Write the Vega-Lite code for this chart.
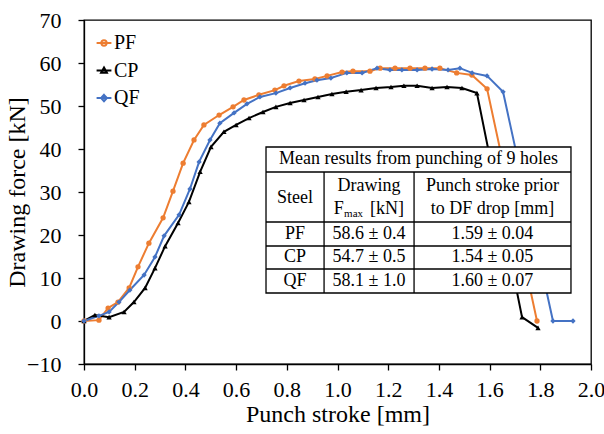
{
  "$schema": "https://vega.github.io/schema/vega-lite/v6.json",
  "width": 507,
  "height": 344,
  "autosize": {"type": "none"},
  "padding": {"left": 84, "top": 20, "right": 13, "bottom": 70},
  "background": "white",
  "config": {
    "font": "Liberation Serif",
    "view": {"stroke": "black", "strokeWidth": 1.3},
    "axis": {"grid": false, "domainColor": "black", "domainWidth": 1.3, "tickColor": "black", "tickWidth": 1.3, "tickSize": 6, "labelColor": "black", "titleColor": "black", "labelFont": "Liberation Serif", "titleFont": "Liberation Serif", "labelFontSize": 22, "titleFontSize": 24, "titleFontWeight": "normal"},
    "legend": {"labelFont": "Liberation Serif", "labelFontSize": 20, "labelColor": "black"}
  },
  "datasets": {
    "curves": [
      {"steel":"PF","s":0,"f":0},{"steel":"PF","s":0.059,"f":0.2},{"steel":"PF","s":0.095,"f":3.0},{"steel":"PF","s":0.134,"f":4.4},{"steel":"PF","s":0.178,"f":7.7},{"steel":"PF","s":0.213,"f":12.6},{"steel":"PF","s":0.256,"f":18.1},{"steel":"PF","s":0.312,"f":24.0},{"steel":"PF","s":0.351,"f":30.2},{"steel":"PF","s":0.391,"f":36.7},{"steel":"PF","s":0.434,"f":42.1},{"steel":"PF","s":0.473,"f":45.6},{"steel":"PF","s":0.533,"f":47.9},{"steel":"PF","s":0.588,"f":49.8},{"steel":"PF","s":0.631,"f":51.4},{"steel":"PF","s":0.690,"f":52.6},{"steel":"PF","s":0.753,"f":53.7},{"steel":"PF","s":0.789,"f":54.7},{"steel":"PF","s":0.848,"f":55.8},{"steel":"PF","s":0.911,"f":56.3},{"steel":"PF","s":0.959,"f":57.0},{"steel":"PF","s":1.018,"f":57.9},{"steel":"PF","s":1.061,"f":58.1},{"steel":"PF","s":1.128,"f":58.1},{"steel":"PF","s":1.168,"f":58.8},{"steel":"PF","s":1.227,"f":58.8},{"steel":"PF","s":1.286,"f":58.8},{"steel":"PF","s":1.345,"f":58.8},{"steel":"PF","s":1.404,"f":58.8},{"steel":"PF","s":1.470,"f":57.7},{"steel":"PF","s":1.530,"f":57.2},{"steel":"PF","s":1.590,"f":54.0},{"steel":"PF","s":1.787,"f":0},
      {"steel":"CP","s":0,"f":0},{"steel":"CP","s":0.043,"f":1.4},{"steel":"CP","s":0.099,"f":0.9},{"steel":"CP","s":0.158,"f":2.1},{"steel":"CP","s":0.197,"f":4.4},{"steel":"CP","s":0.241,"f":7.7},{"steel":"CP","s":0.280,"f":12.3},{"steel":"CP","s":0.320,"f":17.4},{"steel":"CP","s":0.371,"f":22.8},{"steel":"CP","s":0.414,"f":27.7},{"steel":"CP","s":0.458,"f":34.7},{"steel":"CP","s":0.501,"f":40.5},{"steel":"CP","s":0.552,"f":44.0},{"steel":"CP","s":0.600,"f":45.6},{"steel":"CP","s":0.651,"f":47.2},{"steel":"CP","s":0.706,"f":48.6},{"steel":"CP","s":0.757,"f":49.8},{"steel":"CP","s":0.813,"f":50.7},{"steel":"CP","s":0.868,"f":51.4},{"steel":"CP","s":0.923,"f":52.1},{"steel":"CP","s":0.978,"f":52.8},{"steel":"CP","s":1.034,"f":53.3},{"steel":"CP","s":1.093,"f":53.7},{"steel":"CP","s":1.152,"f":54.2},{"steel":"CP","s":1.211,"f":54.4},{"steel":"CP","s":1.262,"f":54.7},{"steel":"CP","s":1.314,"f":54.7},{"steel":"CP","s":1.373,"f":54.2},{"steel":"CP","s":1.432,"f":54.4},{"steel":"CP","s":1.491,"f":54.2},{"steel":"CP","s":1.550,"f":53.0},{"steel":"CP","s":1.728,"f":0.9},{"steel":"CP","s":1.791,"f":-1.6},
      {"steel":"QF","s":0,"f":0},{"steel":"QF","s":0.059,"f":1.2},{"steel":"QF","s":0.099,"f":2.1},{"steel":"QF","s":0.138,"f":4.4},{"steel":"QF","s":0.181,"f":7.2},{"steel":"QF","s":0.237,"f":10.7},{"steel":"QF","s":0.280,"f":14.9},{"steel":"QF","s":0.316,"f":19.8},{"steel":"QF","s":0.375,"f":24.7},{"steel":"QF","s":0.418,"f":30.7},{"steel":"QF","s":0.454,"f":37.0},{"steel":"QF","s":0.497,"f":42.1},{"steel":"QF","s":0.536,"f":46.0},{"steel":"QF","s":0.592,"f":48.4},{"steel":"QF","s":0.643,"f":50.5},{"steel":"QF","s":0.694,"f":52.1},{"steel":"QF","s":0.757,"f":53.0},{"steel":"QF","s":0.813,"f":54.2},{"steel":"QF","s":0.872,"f":55.3},{"steel":"QF","s":0.919,"f":56.0},{"steel":"QF","s":0.974,"f":56.5},{"steel":"QF","s":1.037,"f":57.7},{"steel":"QF","s":1.097,"f":57.7},{"steel":"QF","s":1.156,"f":58.8},{"steel":"QF","s":1.207,"f":58.4},{"steel":"QF","s":1.254,"f":58.4},{"steel":"QF","s":1.314,"f":58.4},{"steel":"QF","s":1.373,"f":58.6},{"steel":"QF","s":1.436,"f":58.4},{"steel":"QF","s":1.483,"f":58.8},{"steel":"QF","s":1.531,"f":57.7},{"steel":"QF","s":1.590,"f":57.0},{"steel":"QF","s":1.653,"f":53.3},{"steel":"QF","s":1.850,"f":0},{"steel":"QF","s":1.929,"f":0}
    ],
    "tableBox": [{"x":0.718,"x2":1.921,"y":6.51,"y2":40.47}],
    "tableH": [{"x":0.718,"x2":1.921,"y":34.65},{"x":0.718,"x2":1.921,"y":23.02},{"x":0.718,"x2":1.921,"y":17.44},{"x":0.718,"x2":1.921,"y":12.09}],
    "tableV": [{"x":0.947,"y":6.51,"y2":34.65},{"x":1.302,"y":6.51,"y2":34.65}],
    "tableText": [
      {"t":"Mean results from punching of 9 holes","x":1.3195,"y":37.56},
      {"t":"Steel","x":0.832,"y":28.72},
      {"t":"Drawing","x":1.124,"y":31.4},
      {"t":"Punch stroke prior","x":1.611,"y":31.4},
      {"t":"to DF drop [mm]","x":1.611,"y":26.05},
      {"t":"PF","x":0.832,"y":20.23},{"t":"58.6 ± 0.4","x":1.124,"y":20.23},{"t":"1.59 ± 0.04","x":1.611,"y":20.23},
      {"t":"CP","x":0.832,"y":14.77},{"t":"54.7 ± 0.5","x":1.124,"y":14.77},{"t":"1.54 ± 0.05","x":1.611,"y":14.77},
      {"t":"QF","x":0.832,"y":9.3},{"t":"58.1 ± 1.0","x":1.124,"y":9.3},{"t":"1.60 ± 0.07","x":1.611,"y":9.3}
    ],
    "fmaxF": [{"t":"F","x":0.985,"y":26.05}],
    "fmaxSub": [{"t":"max","x":1.026,"y":25.0}],
    "fmaxUnit": [{"t":"[kN]","x":1.128,"y":26.05}]
  },
  "layer": [
    {
      "mark": {"type": "rule", "color": "black", "strokeWidth": 1.3},
      "encoding": {"y": {"datum": 0, "type": "quantitative", "scale": {"domain": [-10, 70], "nice": false}}}
    },
    {
      "data": {"name": "curves"},
      "mark": {"type": "line", "strokeWidth": 2},
      "encoding": {
        "x": {"field": "s", "type": "quantitative", "scale": {"domain": [0, 2], "nice": false},
              "axis": {"title": "Punch stroke [mm]", "values": [0,0.2,0.4,0.6,0.8,1.0,1.2,1.4,1.6,1.8,2.0], "format": ".1f", "labelFlush": false, "labelPadding": 9, "titlePadding": 2,
                       "labelFont": "Liberation Serif", "titleFont": "Liberation Serif", "labelFontSize": 22, "titleFontSize": 24, "labelColor": "black", "titleColor": "black", "titleFontWeight": "normal"}},
        "y": {"field": "f", "type": "quantitative", "scale": {"domain": [-10, 70], "nice": false},
              "axis": {"title": "Drawing force [kN]", "values": [-10,0,10,20,30,40,50,60,70], "labelPadding": 17, "titlePadding": -3,
                       "labelFont": "Liberation Serif", "titleFont": "Liberation Serif", "labelFontSize": 22, "titleFontSize": 24, "labelColor": "black", "titleColor": "black", "titleFontWeight": "normal"}},
        "color": {"field": "steel", "type": "nominal",
                  "scale": {"domain": ["PF","CP","QF"], "range": ["#ED7D31","#000000","#4472C4"]},
                  "legend": null}
      }
    },
    {
      "data": {"name": "curves"},
      "mark": {"type": "point", "filled": true, "size": 28, "opacity": 1},
      "encoding": {
        "x": {"field": "s", "type": "quantitative"},
        "y": {"field": "f", "type": "quantitative"},
        "color": {"field": "steel", "type": "nominal", "legend": null},
        "shape": {"field": "steel", "type": "nominal",
                  "scale": {"domain": ["PF","CP","QF"], "range": ["circle","triangle-up","diamond"]},
                  "legend": null}
      }
    },
    {
      "data": {"name": "curves"},
      "transform": [{"filter": "datum.f > 999"}],
      "mark": {"type": "point", "filled": false, "size": 28, "strokeWidth": 2, "opacity": 1},
      "encoding": {
        "x": {"field": "s", "type": "quantitative"},
        "y": {"field": "f", "type": "quantitative"},
        "color": {"field": "steel", "type": "nominal",
                 "legend": {"title": null, "orient": "none", "legendX": 10, "legendY": 13, "symbolSize": 28, "symbolStrokeWidth": 2, "rowPadding": 7.5, "labelOffset": 0, "labelFont": "Liberation Serif", "labelFontSize": 20, "labelColor": "black",
                            "encode": {"symbols": {"update": {"fill": {"scale": "color", "field": "value"}, "strokeWidth": {"value": 2}}}}}},
        "shape": {"field": "steel", "type": "nominal",
                 "scale": {"domain": ["PF","CP","QF"], "range": ["M-2.8,0L2.8,0M-1,0A1,1,0,1,1,1,0A1,1,0,1,1,-1,0Z", "M-2.8,0L2.8,0M0,-1.15L1.1,0.85L-1.1,0.85Z", "M-2.8,0L2.8,0M0,-1.2L1.1,0L0,1.2L-1.1,0Z"]},
                 "legend": {"title": null, "orient": "none", "legendX": 10, "legendY": 13, "symbolSize": 28, "symbolStrokeWidth": 2, "rowPadding": 7.5, "labelOffset": 0, "labelFont": "Liberation Serif", "labelFontSize": 20, "labelColor": "black",
                            "encode": {"symbols": {"update": {"fill": {"scale": "color", "field": "value"}, "strokeWidth": {"value": 2}}}}}}
      }
    },
    {
      "data": {"name": "tableBox"},
      "mark": {"type": "rect", "fill": "white", "stroke": "black", "strokeWidth": 1.3},
      "encoding": {"x": {"field": "x", "type": "quantitative"}, "x2": {"field": "x2"}, "y": {"field": "y", "type": "quantitative"}, "y2": {"field": "y2"}}
    },
    {
      "data": {"name": "tableH"},
      "mark": {"type": "rule", "color": "black", "strokeWidth": 1.3},
      "encoding": {"x": {"field": "x", "type": "quantitative"}, "x2": {"field": "x2"}, "y": {"field": "y", "type": "quantitative"}}
    },
    {
      "data": {"name": "tableV"},
      "mark": {"type": "rule", "color": "black", "strokeWidth": 1.3},
      "encoding": {"x": {"field": "x", "type": "quantitative"}, "y": {"field": "y", "type": "quantitative"}, "y2": {"field": "y2"}}
    },
    {
      "data": {"name": "tableText"},
      "mark": {"type": "text", "font": "Liberation Serif", "fontSize": 18, "color": "black", "align": "center", "baseline": "middle"},
      "encoding": {"x": {"field": "x", "type": "quantitative"}, "y": {"field": "y", "type": "quantitative"}, "text": {"field": "t"}}
    },
    {
      "data": {"name": "fmaxF"},
      "mark": {"type": "text", "font": "Liberation Serif", "fontSize": 18, "color": "black", "align": "left", "baseline": "middle"},
      "encoding": {"x": {"field": "x", "type": "quantitative"}, "y": {"field": "y", "type": "quantitative"}, "text": {"field": "t"}}
    },
    {
      "data": {"name": "fmaxSub"},
      "mark": {"type": "text", "font": "Liberation Serif", "fontSize": 11, "color": "black", "align": "left", "baseline": "middle"},
      "encoding": {"x": {"field": "x", "type": "quantitative"}, "y": {"field": "y", "type": "quantitative"}, "text": {"field": "t"}}
    },
    {
      "data": {"name": "fmaxUnit"},
      "mark": {"type": "text", "font": "Liberation Serif", "fontSize": 18, "color": "black", "align": "left", "baseline": "middle"},
      "encoding": {"x": {"field": "x", "type": "quantitative"}, "y": {"field": "y", "type": "quantitative"}, "text": {"field": "t"}}
    }
  ],
  "resolve": {"scale": {"shape": "independent"}, "legend": {"color": "independent", "shape": "independent"}}
}
